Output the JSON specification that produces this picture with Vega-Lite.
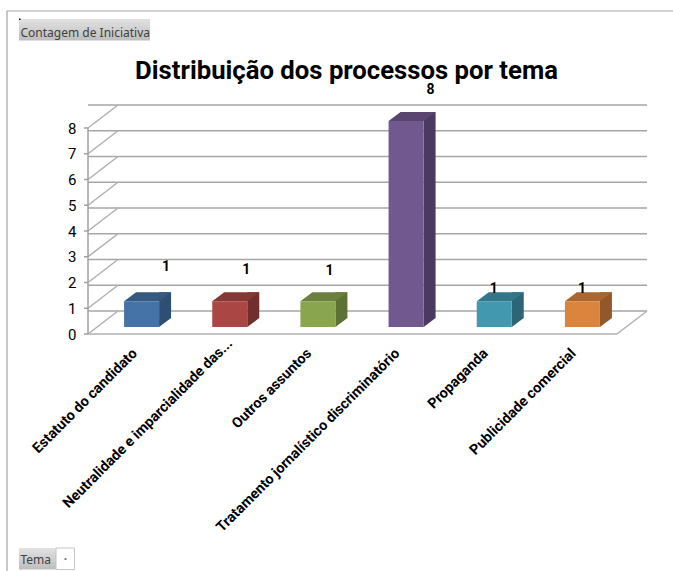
{
"$schema":"https://vega.github.io/schema/vega-lite/v6.json",
"width":529,"height":206,
"autosize":{"type":"none"},
"padding":{"left":88,"top":128,"right":56,"bottom":237},
"background":"white",
"title":{"text":"Distribuição dos processos por tema","font":"Roboto","fontSize":25.7,"fontWeight":"bold","color":"#000000","anchor":"middle","frame":"group","dx":-6,"offset":-96,"baseline":"alphabetic"},
"config":{"view":{"stroke":null},
"axisY":{"tickCount":8,"format":"d","domain":false,"ticks":false,"grid":false,"labelOverlap":false,"labelFont":"Roboto","labelFontSize":15,"labelFontWeight":"normal","labelColor":"#000000","labelPadding":12,"titleFont":"Noto Sans","titleFontSize":12,"titleFontWeight":"normal","titleColor":"#404040","titleAngle":0,"titleAlign":"left","titleBaseline":"alphabetic","titleX":-68,"titleY":-92}},
"datasets":{
"temas":[
{"tema":"Estatuto do candidato","contagem":1},
{"tema":"Neutralidade e imparcialidade das...","contagem":1},
{"tema":"Outros assuntos","contagem":1},
{"tema":"Tratamento jornalístico discriminatório","contagem":8},
{"tema":"Propaganda","contagem":1},
{"tema":"Publicidade comercial","contagem":1}],
"escala":[{"nivel":0},{"nivel":1},{"nivel":2},{"nivel":3},{"nivel":4},{"nivel":5},{"nivel":6},{"nivel":7},{"nivel":8}],
"moldura":[{"item":"moldura"}]
},
"data":{"name":"temas"},
"resolve":{"scale":{"color":"independent"}},
"encoding":{"x":{"field":"tema","type":"nominal","sort":null}},
"layer":[
{"data":{"name":"moldura"},"mark":{"type":"point","filled":false,"size":4,"opacity":1,"stroke":"#a6a6a6","strokeWidth":1.2,"shape":"M-345.5,340 L-345.5,-220 L320.5,-220"},"encoding":{"x":{}}},
{"data":{"name":"moldura"},"mark":{"type":"point","filled":true,"size":4,"opacity":1,"stroke":null,"shape":"M-333.5,-212 L-202.5,-212 L-202.5,-190.5 L-333.5,-190.5 Z","fill":{"gradient":"linear","x1":0,"y1":0,"x2":0,"y2":1,"stops":[{"offset":0,"color":"#e2e2e2"},{"offset":1,"color":"#bdbdbd"}]}},"encoding":{"x":{}}},
{"data":{"name":"moldura"},"mark":{"type":"point","filled":true,"size":4,"opacity":1,"stroke":null,"shape":"M-333.5,317 L-296.5,317 L-296.5,338.5 L-333.5,338.5 Z","fill":{"gradient":"linear","x1":0,"y1":0,"x2":0,"y2":1,"stops":[{"offset":0,"color":"#e2e2e2"},{"offset":1,"color":"#bdbdbd"}]}},"encoding":{"x":{}}},
{"data":{"name":"moldura"},"mark":{"type":"point","filled":true,"size":4,"opacity":1,"fill":"white","stroke":"#c4c4c4","strokeWidth":1,"shape":"M-296.5,317 L-278,317 L-278,338.5 L-296.5,338.5 Z"},"encoding":{"x":{}}},
{"data":{"name":"moldura"},"mark":{"type":"point","filled":true,"size":4,"opacity":1,"fill":"black","stroke":null,"shape":"M-288,327.5 L-286,327.5 L-286,328.5 L-288,328.5 Z M-333.5,-212.5 L-332,-212.5 L-332,-211 L-333.5,-211 Z"},"encoding":{"x":{}}},
{"data":{"name":"escala"},"mark":{"type":"rule","color":"#a6a6a6","strokeWidth":1.5,"xOffset":30,"x2Offset":30,"yOffset":-23,"y2Offset":-23},"encoding":{"x":{},"y":{"field":"nivel","type":"quantitative","title":"Contagem de Iniciativa","scale":{"domain":[0,8],"nice":false}}}},
{"data":{"name":"escala"},"mark":{"type":"point","filled":false,"size":4,"opacity":1,"stroke":"#b0b0b0","strokeWidth":1.5,"shape":"M-264.5,0 L-234.5,-23"},"encoding":{"x":{},"y":{"field":"nivel","type":"quantitative","title":"Contagem de Iniciativa"}}},
{"data":{"name":"escala"},"mark":{"type":"point","filled":false,"size":4,"opacity":1,"stroke":"#a0a0a0","strokeWidth":1.5,"shape":"M-268.5,0 L-264.5,0"},"encoding":{"x":{},"y":{"field":"nivel","type":"quantitative","title":"Contagem de Iniciativa"}}},
{"data":{"name":"escala"},"transform":[{"filter":"datum.nivel==0"}],"mark":{"type":"point","filled":false,"size":4,"opacity":1,"stroke":"#b0b0b0","strokeWidth":1.5,"shape":"M264.5,0 L294.5,-23"},"encoding":{"x":{},"y":{"field":"nivel","type":"quantitative","title":"Contagem de Iniciativa"}}},
{"data":{"name":"escala"},"transform":[{"filter":"datum.nivel==0"}],"mark":{"type":"point","filled":false,"size":4,"opacity":1,"stroke":"#a0a0a0","strokeWidth":1.5,"shape":"M-264.5,0 L-264.5,-206"},"encoding":{"x":{},"y":{"field":"nivel","type":"quantitative","title":"Contagem de Iniciativa"}}},
{"data":{"name":"escala"},"transform":[{"filter":"datum.nivel==0"}],"mark":{"type":"rule","color":"#b0b0b0","strokeWidth":1.5},"encoding":{"x":{},"y":{"field":"nivel","type":"quantitative","title":"Contagem de Iniciativa"}}},
{"mark":{"type":"bar","size":12,"xOffset":33,"x2Offset":33,"yOffset":-16,"y2Offset":-16},
 "encoding":{"y":{"field":"contagem","type":"quantitative","title":"Contagem de Iniciativa"},
 "color":{"field":"tema","type":"nominal","sort":null,"legend":null,"scale":{"range":["#2f4e74","#702f2d","#5d7035","#4a3a60","#2b6576","#92582a"]}}}},
{"mark":{"type":"point","filled":true,"size":4,"opacity":1,"xOffset":9.5,"yOffset":-7,"shape":"M17.5,0 L29.5,-9 L17.5,-9 Z","stroke":null},
 "encoding":{"y":{"datum":0,"type":"quantitative","title":"Contagem de Iniciativa"},
 "color":{"field":"tema","type":"nominal","sort":null,"legend":null,"scale":{"range":["#2f4e74","#702f2d","#5d7035","#4a3a60","#2b6576","#92582a"]}}}},
{"mark":{"type":"point","filled":true,"size":4,"opacity":1,"xOffset":9.5,"yOffset":-7,"shape":"M-17.5,0 L17.5,0 L29.5,-9 L-5.5,-9 Z","stroke":null},
 "encoding":{"y":{"field":"contagem","type":"quantitative","title":"Contagem de Iniciativa"},
 "color":{"field":"tema","type":"nominal","sort":null,"legend":null,"scale":{"range":["#36597f","#843735","#6a803c","#594570","#33768a","#a9662f"]}}}},
{"mark":{"type":"bar","size":35,"xOffset":9.5,"x2Offset":9.5,"yOffset":-7,"y2Offset":-7},
 "encoding":{"y":{"field":"contagem","type":"quantitative","axis":{"zindex":1},"title":"Contagem de Iniciativa"},
 "x":{"field":"tema","type":"nominal","sort":null,"axis":{"zindex":1,"domain":false,"ticks":false,"labelAngle":-45,"labelAlign":"right","labelBaseline":"middle","labelFont":"Roboto","labelFontSize":14.4,"labelFontWeight":"bold","labelColor":"#000000","labelPadding":{"expr":"datum.value=='Neutralidade e imparcialidade das...'?7:17"},"labelLimit":400,"labelOverlap":false,"labelOffset":{"expr":"datum.value=='Neutralidade e imparcialidade das...'?10:(datum.value=='Estatuto do candidato'?3:1)"},"title":"Tema","titleFont":"Noto Sans","titleFontSize":12,"titleFontWeight":"normal","titleColor":"#404040","titleAlign":"left","titleBaseline":"alphabetic","titleX":-68,"titleY":229}},
 "color":{"field":"tema","type":"nominal","sort":null,"legend":null,"scale":{"range":["#4572a7","#aa4643","#89a54e","#71588f","#4198af","#db843d"]}}}},
{"transform":[{"filter":"datum.tema=='Estatuto do candidato'"}],"mark":{"type":"text","font":"Roboto","fontSize":14,"fontWeight":"bold","color":"#000","dx":34,"dy":-41},"encoding":{"y":{"field":"contagem","type":"quantitative","title":"Contagem de Iniciativa"},"text":{"field":"contagem"}}},
{"transform":[{"filter":"datum.tema=='Neutralidade e imparcialidade das...'"}],"mark":{"type":"text","font":"Roboto","fontSize":14,"fontWeight":"bold","color":"#000","dx":26,"dy":-38},"encoding":{"y":{"field":"contagem","type":"quantitative","title":"Contagem de Iniciativa"},"text":{"field":"contagem"}}},
{"transform":[{"filter":"datum.tema=='Outros assuntos'"}],"mark":{"type":"text","font":"Roboto","fontSize":14,"fontWeight":"bold","color":"#000","dx":21,"dy":-37},"encoding":{"y":{"field":"contagem","type":"quantitative","title":"Contagem de Iniciativa"},"text":{"field":"contagem"}}},
{"transform":[{"filter":"datum.tema=='Tratamento jornalístico discriminatório'"}],"mark":{"type":"text","font":"Roboto","fontSize":14,"fontWeight":"bold","color":"#000","dx":34,"dy":-38},"encoding":{"y":{"field":"contagem","type":"quantitative","title":"Contagem de Iniciativa"},"text":{"field":"contagem"}}},
{"transform":[{"filter":"datum.tema=='Propaganda'||datum.tema=='Publicidade comercial'"}],"mark":{"type":"text","font":"Roboto","fontSize":14,"fontWeight":"bold","color":"#000","dx":9,"dy":-19},"encoding":{"y":{"field":"contagem","type":"quantitative","title":"Contagem de Iniciativa"},"text":{"field":"contagem"}}}
]
}
